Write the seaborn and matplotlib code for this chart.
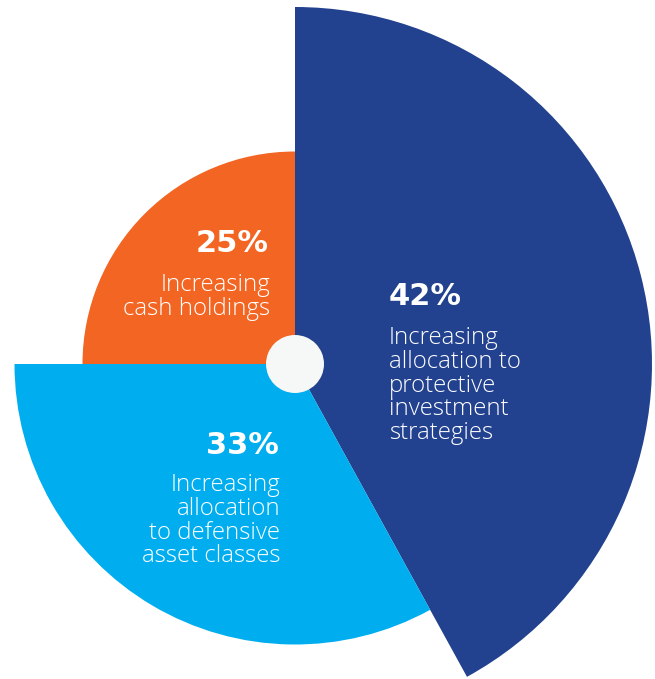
import numpy as np
import matplotlib
matplotlib.use("Agg")
import matplotlib.pyplot as plt
import seaborn as sns

# Data
categories = ["Increasing allocation to protective investment strategies",
              "Increasing allocation to defensive asset classes",
              "Increasing cash holdings"]
values = [42, 33, 25]
pct_labels = ["42%", "33%", "25%"]
body_labels = ["Increasing\nallocation to\nprotective\ninvestment\nstrategies",
               "Increasing\nallocation\nto defensive\nasset classes",
               "Increasing\ncash holdings"]
colors = ["#22418E", "#00AEEF", "#F26522"]

sns.set_style("white")
plt.rcParams['font.family'] = ['DejaVu Sans']

W, H = 655, 679
fig = plt.figure(figsize=(W / 100, H / 100), dpi=100)
fig.patch.set_facecolor("white")

cx, cy = 295, 364          # centre in pixels (from top-left)
px_per_unit = 8.5
rmax = 43
R = rmax * px_per_unit
ax = fig.add_axes([(cx - R) / W, (H - cy - R) / H, 2 * R / W, 2 * R / H],
                  projection="polar")
ax.set_theta_zero_location("N")
ax.set_theta_direction(-1)
ax.set_ylim(0, rmax)
ax.axis("off")
ax.patch.set_alpha(0)

total = sum(values)
widths = [2 * np.pi * v / total for v in values]
starts = np.concatenate([[0], np.cumsum(widths)[:-1]])
ax.bar(starts, values, width=widths, align="edge", color=colors,
       edgecolor="none", linewidth=0)
# centre hole
ax.bar(0, 29 / px_per_unit, width=2 * np.pi, color="#F6F7F7",
       edgecolor="none", linewidth=0)

# Text overlay
tx = fig.add_axes([0, 0, 1, 1])
tx.set_xlim(0, W)
tx.set_ylim(H, 0)
tx.axis("off")
tx.patch.set_alpha(0)

pct_kw = dict(color="white", fontsize=22, fontweight="bold", va="top",
              family=["DejaVu Sans"])
body_kw = dict(color="white", fontsize=17.3, fontweight="light", va="top",
               linespacing=0.99, family=["Open Sans", "DejaVu Sans"])

# 42%
tx.text(389, 282, pct_labels[0], ha="left", **pct_kw)
tx.text(389, 326, body_labels[0], ha="left", multialignment="left", **body_kw)
# 33%
tx.text(279, 431, pct_labels[1], ha="right", **pct_kw)
tx.text(280, 473, body_labels[1], ha="right", multialignment="right", **body_kw)
# 25%
tx.text(269, 229, pct_labels[2], ha="right", **pct_kw)
tx.text(270, 273, body_labels[2], ha="right", multialignment="right", **body_kw)

fig.savefig("out.png", dpi=100, facecolor="white")
